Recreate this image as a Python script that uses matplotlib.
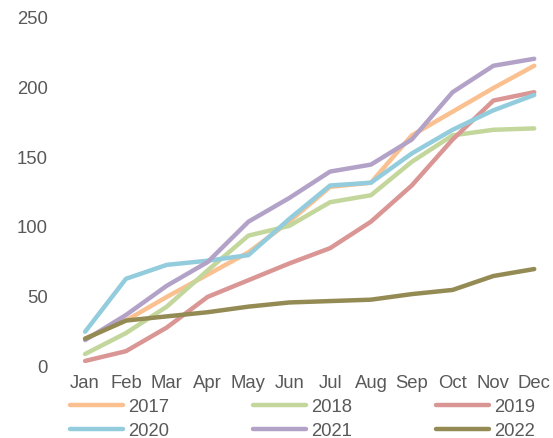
import matplotlib
matplotlib.use('Agg')
from matplotlib import pyplot as plt

months = ['Jan', 'Feb', 'Mar', 'Apr', 'May', 'Jun',
          'Jul', 'Aug', 'Sep', 'Oct', 'Nov', 'Dec']

y2017 = [19, 32, 49, 65, 81, 103, 128, 131, 165, 182, 199, 215]
y2018 = [8, 23, 42, 68, 93, 100, 117, 122, 146, 165, 169, 170]
y2019 = [3, 10, 27, 49, 61, 73, 84, 103, 129, 162, 190, 196]
y2020 = [24, 62, 72, 75, 79, 105, 129, 131, 152, 169, 183, 194]
y2021 = [18, 36, 57, 74, 103, 120, 139, 144, 162, 196, 215, 220]
y2022 = [19, 32, 35, 38, 42, 45, 46, 47, 51, 54, 64, 69]

series = [('2017', y2017, '#FAC090'), ('2018', y2018, '#C3D69B'),
          ('2019', y2019, '#D99694'), ('2020', y2020, '#93CDDD'),
          ('2021', y2021, '#B3A2C7'), ('2022', y2022, '#948A54')]

plt.rcParams['font.family'] = ['Liberation Sans', 'DejaVu Sans']

fig = plt.figure(figsize=(5.53, 4.39), dpi=100)
ax = fig.add_axes([0.117, 0.166, 0.886, 0.793])

x = list(range(len(months)))
lines = []
for name, vals, col in series:
    ln, = ax.plot(x, vals, color=col, lw=3.2, label=name, solid_capstyle='round')
    lines.append(ln)

ax.set_xlim(-0.5, 11.5)
ax.set_ylim(0, 250)
ax.set_yticks([0, 50, 100, 150, 200, 250])
ax.set_xticks(x)
ax.set_xticklabels(months)
for s in ax.spines.values():
    s.set_visible(False)
ax.tick_params(axis='both', length=0, labelsize=13.3, colors='#595959')
ax.tick_params(axis='y', pad=12)
ax.tick_params(axis='x', pad=6.5)

# legend filled row by row (3 per row)
order = [0, 3, 1, 4, 2, 5]
fig.legend([lines[i] for i in order], [series[i][0] for i in order],
           loc='upper left', bbox_to_anchor=(0.1266, 0.091), ncol=3,
           frameon=False, fontsize=13.3, handlelength=2.87,
           handletextpad=0.27, columnspacing=4.55, labelspacing=0.38,
           labelcolor='#595959', borderaxespad=0, borderpad=0)

fig.savefig('out.png', dpi=100)
